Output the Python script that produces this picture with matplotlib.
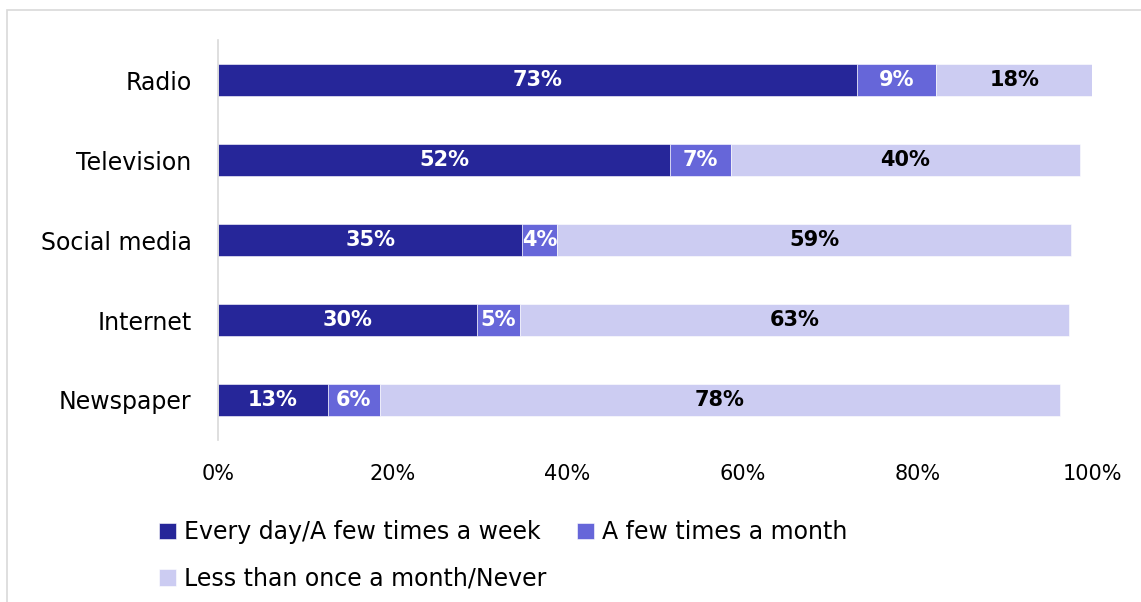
import matplotlib.pyplot as plt
from matplotlib.patches import Rectangle

# Datos (porcentajes)
categorias = ["Radio", "Television", "Social media", "Internet", "Newspaper"]
diario = [73.1, 51.7, 34.8, 29.6, 12.6]
mensual = [9.1, 7.0, 4.0, 5.0, 5.9]
nunca = [17.8, 39.9, 58.8, 62.8, 77.8]
series = ["Every day/A few times a week", "A few times a month",
          "Less than once a month/Never"]
colores = ["#262699", "#6666d9", "#ccccf2"]
color_texto = ["white", "white", "black"]
ticks = [0, 20, 40, 60, 80, 100]

plt.rcParams['font.family'] = ['DejaVu Sans']

fig = plt.figure(figsize=(11.41, 6.02), dpi=100)
ax = fig.add_axes([218 / 1141, 1 - 440 / 602, (1092 - 218) / 1141, 400 / 602])

# Marco gris de la figura
fig.patches.append(Rectangle((7 / 1141, -0.05), 1.1, 1 - 10 / 602 + 0.05,
                             transform=fig.transFigure, fill=False,
                             edgecolor="#d9d9d9", linewidth=1.2))

y = list(range(len(categorias)))
izquierda = [0] * len(categorias)
barras = []
for valores, nombre, color, tcolor in zip([diario, mensual, nunca], series, colores, color_texto):
    b = ax.barh(y, valores, left=izquierda, height=0.41, color=color,
                edgecolor="white", linewidth=0.4, label=nombre)
    barras.append(b)
    for yi, v, l in zip(y, valores, izquierda):
        ax.text(l + v / 2, yi, f"{round(v):.0f}%", ha="center", va="center",
                color=tcolor, fontsize=15, fontweight="bold")
    izquierda = [a + v for a, v in zip(izquierda, valores)]

ax.set_yticks(y)
ax.set_yticklabels(categorias, fontsize=17)
ax.set_ylim(len(categorias) - 0.5, -0.5)
ax.set_xlim(0, 100)
ax.set_xticks(ticks)
ax.set_xticklabels([f"{t}%" for t in ticks], fontsize=15)
ax.tick_params(axis="y", length=0, pad=19)
ax.tick_params(axis="x", length=0, pad=17)
for s in ["top", "right", "bottom"]:
    ax.spines[s].set_visible(False)
ax.spines["left"].set_color("#d9d9d9")
ax.spines["left"].set_linewidth(1.2)

handles = [barras[0], barras[2], barras[1]]
labels = [series[0], series[2], series[1]]
fig.legend(handles, labels, ncol=2, loc="upper left",
           bbox_to_anchor=(150 / 1141, 1 - 511 / 602), frameon=False,
           fontsize=17, handlelength=0.7, handleheight=0.7,
           handletextpad=0.35, columnspacing=1.3, labelspacing=0.95,
           borderaxespad=0)

fig.savefig("out.png", dpi=100)
